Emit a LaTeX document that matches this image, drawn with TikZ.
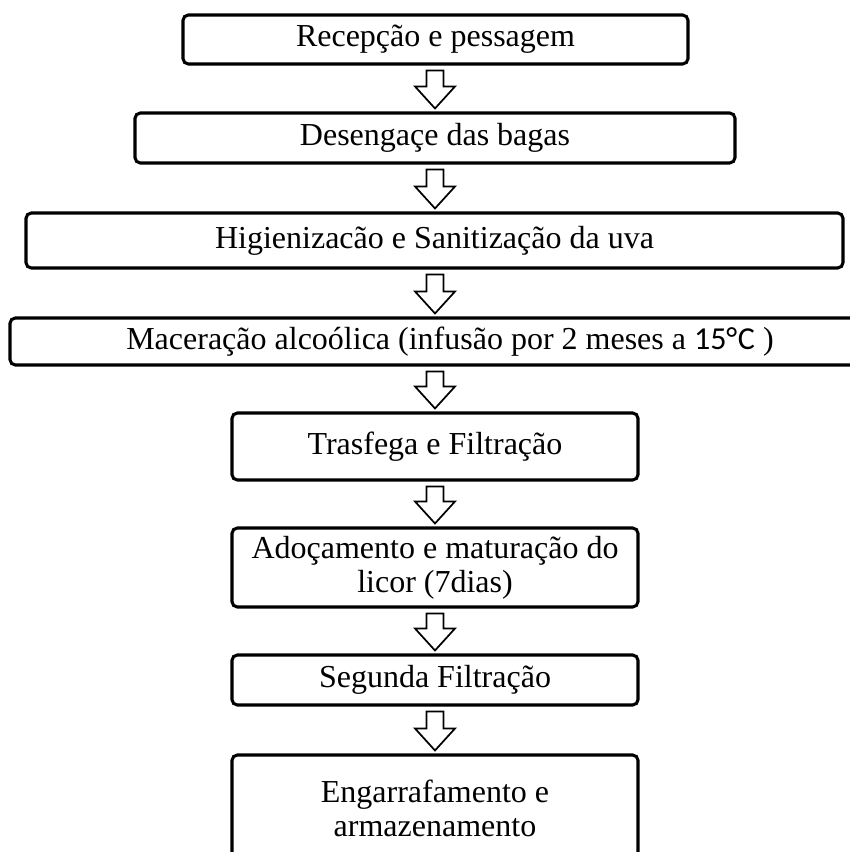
\documentclass[tikz,border=0pt]{standalone}
\usepackage{fontspec}
\setmainfont{Liberation Serif}
\newfontfamily\calibrifont[Ligatures={NoCommon,NoDiscretionary,NoContextual}]{Carlito}
\usetikzlibrary{calc}
\tikzset{
  stepbox/.style={draw=black, line width=2.3pt, rounded corners=4pt, fill=white,
    rectangle, inner sep=0pt, align=center,
    font=\fontsize{24}{25.5}\selectfont},
  arr/.style={draw=black, line width=1.3pt, fill=white, line join=miter}
}
\newcommand\flowarrow[2]{%
  \draw[arr] let \p1=($(ax |- #1.south)+(0,5)$), \p2=($(ax |- #2.north)+(0,-3)$) in
    ({\x1-6.4pt},{\y1}) -- ({\x1+6.4pt},{\y1}) -- ({\x1+6.4pt},{\y2+16.5pt}) --
    ({\x1+15pt},{\y2+16.5pt}) -- ({\x1},{\y2}) -- ({\x1-15pt},{\y2+16.5pt}) --
    ({\x1-6.4pt},{\y2+16.5pt}) -- cycle;}
\begin{document}
\begin{tikzpicture}[x=0.75pt,y=-0.75pt]
\useasboundingbox[fill=white] (0,0) rectangle (849,852);
\coordinate (ax) at (435,0);
\node[stepbox, minimum width=505*0.75pt, minimum height=49*0.75pt] (b1) at (435.5,39.5) {Recepção e pessagem};
\node[stepbox, minimum width=600*0.75pt, minimum height=50*0.75pt] (b2) at (435,138) {Desengaçe das bagas};
\node[stepbox, minimum width=817*0.75pt, minimum height=55*0.75pt] (b3) at (434.5,240.5) {Higienizacão e Sanitização da uva};
\node[stepbox, minimum width=880*0.75pt, minimum height=47*0.75pt] (b4) at (450,341.5) {Maceração alcoólica (infusão por 2 meses a {\calibrifont 15°\kern0.5pt C} )};
\node[stepbox, minimum width=406*0.75pt, minimum height=67*0.75pt] (b5) at (435,446.5) {Trasfega e Filtração};
\node[stepbox, minimum width=406*0.75pt, minimum height=79*0.75pt] (b6) at (435,567.5) {Adoçamento e maturação do\\licor (7dias)};
\node[stepbox, minimum width=406*0.75pt, minimum height=50*0.75pt] (b7) at (435,680) {Segunda Filtração};
\node[stepbox, minimum width=406*0.75pt, minimum height=107*0.75pt] (b8) at (435,808.5) {Engarrafamento e\\armazenamento};
\flowarrow{b1}{b2}
\flowarrow{b2}{b3}
\flowarrow{b3}{b4}
\flowarrow{b4}{b5}
\flowarrow{b5}{b6}
\flowarrow{b6}{b7}
\flowarrow{b7}{b8}
\end{tikzpicture}
\end{document}
